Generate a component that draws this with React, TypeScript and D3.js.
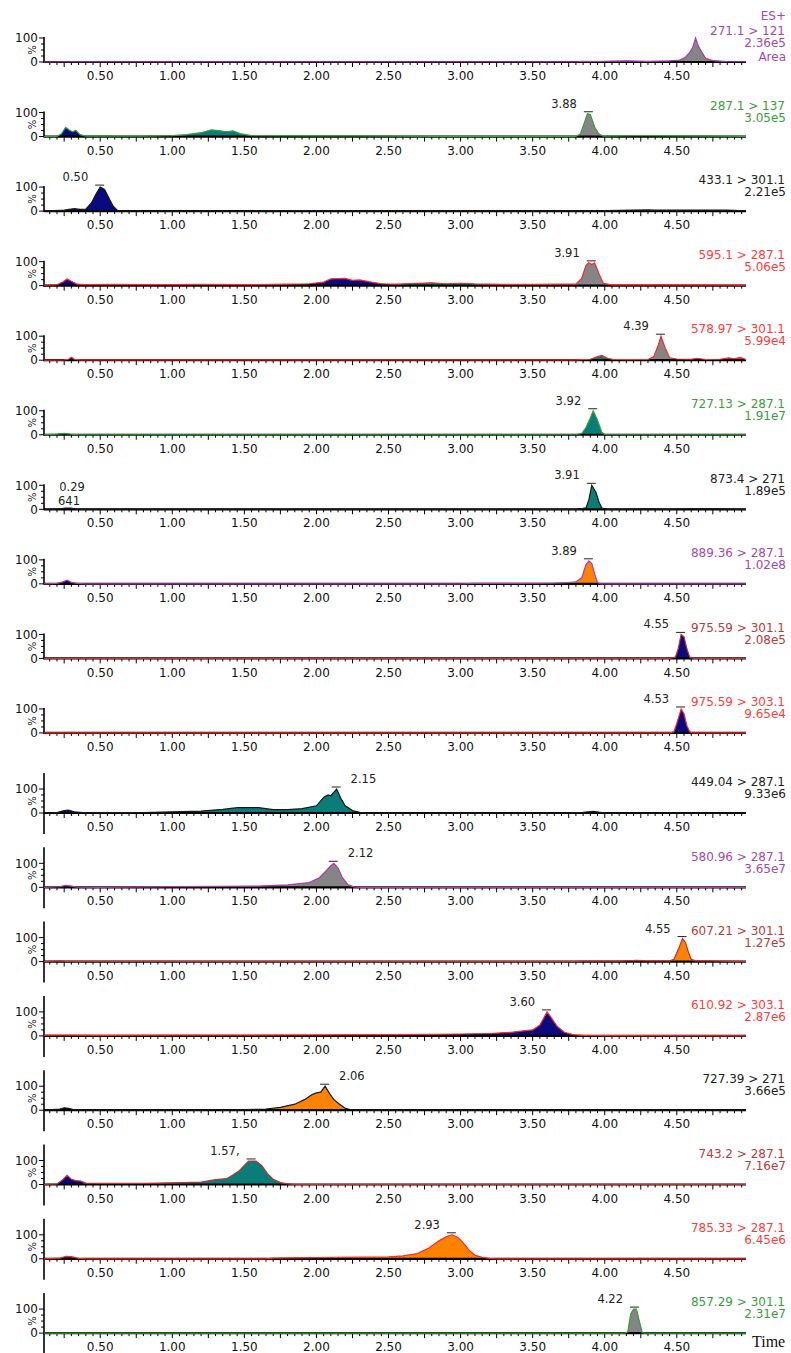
import React from 'react';
import * as d3 from 'd3';

// retention time axis (minutes)
const timeDomain: [number, number] = [0.11, 4.98];
const timeTickLabels = [0.5, 1, 1.5, 2, 2.5, 3, 3.5, 4, 4.5];

// MRM transitions and their base peak intensities
const transitions = [
  '271.1 > 121', '287.1 > 137', '433.1 > 301.1', '595.1 > 287.1', '578.97 > 301.1',
  '727.13 > 287.1', '873.4 > 271', '889.36 > 287.1', '975.59 > 301.1', '975.59 > 303.1',
  '449.04 > 287.1', '580.96 > 287.1', '607.21 > 301.1', '610.92 > 303.1', '727.39 > 271',
  '743.2 > 287.1', '785.33 > 287.1', '857.29 > 301.1',
];
const intensities = [
  '2.36e5', '3.05e5', '2.21e5', '5.06e5', '5.99e4', '1.91e7', '1.89e5', '1.02e8', '2.08e5',
  '9.65e4', '9.33e6', '3.65e7', '1.27e5', '2.87e6', '3.66e5', '7.16e7', '6.45e6', '2.31e7',
];
const traceColorKeys = [
  'purple', 'green', 'black', 'red', 'red', 'green', 'black', 'purple', 'darkred',
  'red', 'black', 'purple', 'darkred', 'red', 'black', 'darkred', 'red', 'green',
];

// labelled peaks: retention time, text, side of the label
const peakTimes = [4.63, 3.89, 0.5, 3.91, 4.39, 3.92, 3.91, 3.89, 4.53, 4.53, 2.14, 2.12, 4.54, 3.6, 2.06, 1.55, 2.94, 4.21];
const peakLabels = ['', '3.88', '0.50', '3.91', '4.39', '3.92', '3.91', '3.89', '4.55', '4.53', '2.15', '2.12', '4.55', '3.60', '2.06', '1.57,', '2.93', '4.22'];
const peakSides = ['L', 'L', 'L', 'L', 'L', 'L', 'L', 'L', 'L', 'L', 'R', 'R', 'L', 'L', 'R', 'L', 'L', 'L'];

// chromatograms: [time, % of base peak]
const tr271 = [[0.11, 0], [0.25, 1], [0.3, 1], [0.6, 1], [0.65, 1], [1.3, 1], [1.55, 1], [1.65, 1], [2.8, 1], [3.8, 1], [3.85, 3], [3.95, 2], [4.05, 4], [4.15, 5], [4.3, 3], [4.45, 5], [4.52, 8], [4.56, 20], [4.59, 40], [4.61, 60], [4.63, 100], [4.65, 65], [4.67, 45], [4.7, 15], [4.75, 6], [4.8, 4], [4.85, 2], [4.98, 1]];
const tr287 = [[0.11, 0], [0.2, 1], [0.23, 10], [0.26, 38], [0.29, 25], [0.31, 20], [0.33, 26], [0.36, 8], [0.4, 2], [0.55, 3], [0.6, 2], [0.8, 2], [1.0, 4], [1.1, 8], [1.2, 16], [1.27, 28], [1.32, 25], [1.38, 20], [1.42, 24], [1.47, 12], [1.55, 4], [2.0, 3], [2.3, 3], [2.8, 1], [3.8, 1], [3.83, 10], [3.86, 60], [3.88, 95], [3.9, 92], [3.93, 40], [3.96, 10], [3.99, 2], [4.2, 4], [4.3, 4], [4.98, 1]];
const tr433 = [[0.11, 0], [0.18, 2], [0.25, 4], [0.32, 10], [0.36, 7], [0.4, 8], [0.44, 35], [0.47, 70], [0.5, 100], [0.53, 90], [0.56, 55], [0.59, 20], [0.62, 3], [0.66, 1], [1.45, 0], [1.8, 2], [1.93, 2], [2.3, 1], [2.5, 1], [3.0, 1], [3.8, 1], [4.0, 2], [4.3, 5], [4.35, 4], [4.85, 4], [4.98, 1]];
const tr595 = [[0.11, 2], [0.2, 4], [0.24, 15], [0.27, 28], [0.3, 18], [0.34, 6], [0.4, 4], [0.6, 5], [0.8, 4], [1.0, 4], [1.2, 5], [1.5, 4], [1.8, 6], [1.95, 8], [2.05, 15], [2.1, 28], [2.2, 30], [2.25, 22], [2.3, 24], [2.38, 15], [2.45, 8], [2.55, 6], [2.7, 10], [2.8, 12], [2.9, 8], [3.0, 10], [3.1, 7], [3.3, 5], [3.5, 5], [3.7, 6], [3.8, 6], [3.84, 30], [3.87, 85], [3.89, 95], [3.91, 88], [3.93, 95], [3.96, 50], [3.99, 10], [4.05, 3], [4.5, 3], [4.98, 2]];
const tr578 = [[0.11, 0], [0.25, 1], [0.28, 4], [0.3, 12], [0.32, 4], [0.36, 1], [1.0, 1], [1.5, 1], [2.0, 1], [3.0, 1], [3.8, 1], [3.9, 4], [3.95, 15], [3.98, 20], [4.02, 8], [4.06, 3], [4.15, 2], [4.3, 3], [4.34, 15], [4.37, 60], [4.39, 100], [4.42, 50], [4.45, 10], [4.5, 5], [4.6, 4], [4.64, 8], [4.7, 3], [4.8, 4], [4.86, 10], [4.9, 6], [4.94, 12], [4.97, 5], [4.98, 2]];
const tr727a = [[0.11, 0], [0.2, 3], [0.25, 6], [0.3, 2], [0.35, 0], [3.5, 0], [3.8, 1], [3.84, 5], [3.87, 30], [3.9, 70], [3.92, 100], [3.95, 60], [3.98, 10], [4.0, 1], [4.98, 0]];
const tr873 = [[0.11, 0], [0.22, 2], [0.26, 5], [0.3, 5], [0.33, 1], [3.8, 0], [3.84, 3], [3.87, 6], [3.89, 40], [3.91, 100], [3.94, 70], [3.96, 30], [3.98, 5], [4.02, 0], [4.35, 2], [4.4, 0], [4.55, 2], [4.6, 2], [4.7, 2], [4.8, 2], [4.98, 0]];
const tr889 = [[0.11, 0], [0.2, 2], [0.24, 8], [0.27, 15], [0.3, 6], [0.34, 2], [0.4, 0], [3.0, 0], [3.1, 2], [3.4, 2], [3.65, 3], [3.75, 5], [3.8, 8], [3.84, 25], [3.87, 80], [3.89, 96], [3.91, 85], [3.93, 40], [3.95, 5], [3.97, 0], [4.98, 0]];
const tr975a = [[0.11, 0], [4.45, 0], [4.49, 5], [4.51, 40], [4.53, 100], [4.55, 90], [4.57, 40], [4.59, 5], [4.62, 0], [4.98, 0]];
const tr975b = [[0.11, 0], [4.45, 0], [4.48, 5], [4.5, 40], [4.53, 100], [4.55, 80], [4.57, 30], [4.59, 5], [4.61, 0], [4.98, 0]];
const tr449 = [[0.11, 0], [0.2, 2], [0.25, 10], [0.28, 12], [0.32, 5], [0.36, 3], [0.4, 1], [0.6, 2], [0.8, 2], [1.0, 5], [1.2, 8], [1.35, 15], [1.45, 22], [1.6, 22], [1.7, 14], [1.8, 14], [1.9, 18], [2.0, 30], [2.05, 65], [2.08, 75], [2.1, 72], [2.14, 100], [2.17, 60], [2.2, 30], [2.25, 10], [2.3, 3], [2.35, 0], [3.75, 0], [3.85, 3], [3.92, 7], [3.98, 2], [4.02, 0], [4.98, 0]];
const tr580 = [[0.11, 0], [0.22, 3], [0.26, 8], [0.3, 5], [0.34, 1], [0.5, 0], [1.0, 3], [1.3, 4], [1.6, 5], [1.8, 10], [1.95, 20], [2.02, 40], [2.07, 70], [2.1, 90], [2.12, 100], [2.15, 80], [2.18, 40], [2.22, 10], [2.26, 2], [2.3, 0], [4.98, 0]];
const tr607 = [[0.11, 0], [0.22, 3], [0.26, 1], [1.0, 1], [1.05, 0], [3.8, 0], [3.85, 2], [4.0, 2], [4.1, 2], [4.22, 5], [4.3, 3], [4.45, 3], [4.48, 10], [4.51, 50], [4.54, 96], [4.56, 80], [4.58, 40], [4.6, 10], [4.63, 3], [4.75, 3], [4.8, 2], [4.98, 0]];
const tr610 = [[0.11, 3], [0.3, 3], [0.5, 2], [1.0, 3], [1.5, 3], [2.0, 4], [2.5, 5], [2.8, 6], [3.0, 8], [3.2, 10], [3.35, 15], [3.45, 22], [3.5, 25], [3.55, 45], [3.6, 100], [3.63, 75], [3.67, 40], [3.72, 15], [3.78, 5], [3.85, 2], [4.0, 1], [4.98, 0]];
const tr727b = [[0.11, 0], [0.22, 5], [0.25, 10], [0.28, 8], [0.32, 2], [0.4, 0], [1.0, 1], [1.5, 2], [1.65, 5], [1.75, 12], [1.85, 25], [1.92, 45], [1.97, 65], [2.0, 72], [2.03, 75], [2.06, 100], [2.09, 70], [2.12, 45], [2.16, 25], [2.2, 8], [2.25, 1], [2.3, 0], [4.98, 0]];
const tr743 = [[0.11, 0], [0.2, 2], [0.24, 20], [0.27, 38], [0.3, 22], [0.33, 16], [0.36, 15], [0.4, 6], [0.5, 5], [0.8, 5], [1.0, 7], [1.2, 10], [1.3, 20], [1.38, 25], [1.42, 40], [1.46, 55], [1.5, 80], [1.53, 98], [1.58, 98], [1.62, 80], [1.66, 45], [1.7, 22], [1.75, 8], [1.8, 3], [1.85, 0], [4.98, 0]];
const tr785 = [[0.11, 0], [0.22, 3], [0.26, 10], [0.3, 9], [0.35, 2], [0.4, 0], [1.65, 0], [1.7, 3], [2.0, 5], [2.3, 7], [2.5, 8], [2.6, 12], [2.7, 22], [2.78, 45], [2.85, 75], [2.9, 92], [2.94, 100], [2.98, 90], [3.02, 65], [3.06, 35], [3.1, 15], [3.15, 6], [3.2, 2], [3.25, 0], [4.98, 0]];
const tr857 = [[0.11, 0], [4.14, 0], [4.16, 5], [4.18, 80], [4.2, 100], [4.22, 100], [4.24, 50], [4.26, 2], [4.28, 0], [4.98, 0]];

const traces = [tr271, tr287, tr433, tr595, tr578, tr727a, tr873, tr889, tr975a, tr975b, tr449, tr580, tr607, tr610, tr727b, tr743, tr785, tr857];

// integrated / coloured regions: [from, to, colour key]
const fillRanges: [number, number, string][][] = [
  [[4.5, 4.78, 'gray']],
  [[0.2, 0.38, 'navy'], [1.0, 1.55, 'teal'], [3.8, 3.99, 'gray'], [4.2, 4.32, 'orange']],
  [[0.15, 0.66, 'navy'], [4.25, 4.4, 'orange'], [4.8, 4.9, 'red']],
  [[0.2, 0.36, 'navy'], [1.95, 2.5, 'navy'], [2.55, 3.15, 'teal'], [3.78, 4.02, 'gray']],
  [[0.26, 0.34, 'navy'], [3.88, 4.06, 'teal'], [4.32, 4.48, 'gray'], [4.82, 4.98, 'red']],
  [[0.18, 0.32, 'navy'], [3.82, 4.0, 'teal']],
  [[0.2, 0.34, 'navy'], [3.82, 4.0, 'teal']],
  [[0.2, 0.36, 'navy'], [3.65, 3.97, 'orange']],
  [[4.46, 4.62, 'navy']],
  [[4.46, 4.62, 'navy']],
  [[0.2, 0.38, 'navy'], [0.9, 2.35, 'teal'], [3.78, 4.0, 'gray']],
  [[0.2, 0.35, 'navy'], [0.9, 2.3, 'gray']],
  [[4.46, 4.64, 'orange']],
  [[1.5, 3.9, 'navy']],
  [[0.2, 0.34, 'navy'], [1.4, 2.28, 'orange']],
  [[0.2, 0.38, 'navy'], [0.38, 1.85, 'teal']],
  [[0.2, 0.36, 'navy'], [1.65, 3.25, 'orange']],
  [[4.12, 4.3, 'gray']],
];

const palette: Record<string, string> = {
  purple: '#b03cb0', green: '#36a236', black: '#1a1a1a', red: '#ff2a2a', darkred: '#c23232',
  navy: '#0a0a80', teal: '#0a7d78', gray: '#858585', orange: '#ff8200',
};
const textPalette: Record<string, string> = {
  purple: '#a24aa8', green: '#3c9c3c', black: '#222', red: '#ff3c3c', darkred: '#b83a3a',
};

const font = 'DejaVu Sans, sans-serif';

function Panel({ i, base }: { i: number; base: number }) {
  const x = d3.scaleLinear().domain(timeDomain).range([44, 746]);
  const y = d3.scaleLinear().domain([0, 100]).range([0, -24]);
  const data = traces[i];
  const area = d3.area<number[]>().x((d) => x(d[0])).y0(0).y1((d) => y(d[1]));
  const ln = d3.line<number[]>().x((d) => x(d[0])).y((d) => y(d[1]));
  const tall = i >= 10;
  const minorTicks = d3.range(0.15, 4.98, 0.05).map((v) => Math.round(v * 100) / 100);
  const peakMax = d3.max(data, (d) => d[1]) as number;
  const px = x(peakTimes[i]);
  const py = y(peakMax);
  const col = palette[traceColorKeys[i]];
  const tcol = textPalette[traceColorKeys[i]];
  return (
    <g transform={`translate(0,${base})`}>
      <defs>
        {fillRanges[i].map((r, j) => (
          <clipPath key={j} id={`clip${i}_${j}`}>
            <rect x={x(r[0])} y={-60} width={x(r[1]) - x(r[0])} height={60} />
          </clipPath>
        ))}
      </defs>
      <path d={area(data) || ''} fill="#2a2a2a" />
      {fillRanges[i].map((r, j) => (
        <path key={j} d={area(data) || ''} fill={palette[r[2]]} clipPath={`url(#clip${i}_${j})`} />
      ))}
      {/* y axis */}
      <line x1={44} x2={44} y1={tall ? -40 : -25} y2={tall ? 21 : 1} stroke="#000" strokeWidth={1.6} />
      {[0, 25, 50, 75, 100].map((v) => (
        <line key={v} x1={v % 100 === 0 ? 39 : 41} x2={44} y1={y(v)} y2={y(v)} stroke="#000" strokeWidth={1} />
      ))}
      <text x={38} y={y(100)} dy="0.35em" textAnchor="end" fontFamily={font} fontSize={12} fill="#111">100</text>
      <text x={38} y={0} dy="0.35em" textAnchor="end" fontFamily={font} fontSize={12} fill="#111">0</text>
      <text transform={`translate(36,${y(50)}) rotate(-90)`} textAnchor="middle" fontFamily={font} fontSize={10} fill="#111">%</text>
      {/* x axis */}
      <line x1={44} x2={746} y1={0} y2={0} stroke="#000" strokeWidth={2.2} />
      {minorTicks.map((t) => {
        const major = Math.abs(t * 4 - Math.round(t * 4)) < 1e-6;
        return <line key={t} x1={x(t)} x2={x(t)} y1={0} y2={major ? 5 : 3} stroke="#000" strokeWidth={1} />;
      })}
      {timeTickLabels.map((t) => (
        <text key={t} x={x(t)} y={14} dy="0.35em" textAnchor="middle" fontFamily={font} fontSize={12} fill="#111">
          {t.toFixed(2)}
        </text>
      ))}
      <path d={ln(data) || ''} fill="none" stroke={col} strokeWidth={1.2} />
      {/* peak annotation */}
      {peakLabels[i] && (
        <g>
          <line x1={px - 5} x2={px + 4} y1={py - 2} y2={py - 2} stroke="#222" strokeWidth={1} />
          <text
            x={peakSides[i] === 'L' ? px - 12 : px + 14}
            y={py - 6}
            textAnchor={peakSides[i] === 'L' ? 'end' : 'start'}
            fontFamily={font}
            fontSize={11.5}
            fill="#222"
          >
            {peakLabels[i]}
          </text>
        </g>
      )}
      {i === 6 && (
        <g fontFamily={font} fontSize={11.5} fill="#222" textAnchor="middle">
          <text x={72} y={-22} dy="0.35em">0.29</text>
          <text x={69} y={-8} dy="0.35em">641</text>
        </g>
      )}
      <g fontFamily={font} fontSize={12} fill={tcol} textAnchor="end">
        <text x={785} y={-31} dy="0.35em">{transitions[i]}</text>
        <text x={786} y={-19} dy="0.35em">{intensities[i]}</text>
        {i === 0 && <text x={786} y={-46} dy="0.35em">ES+</text>}
        {i === 0 && <text x={786} y={-5} dy="0.35em">Area</text>}
      </g>
    </g>
  );
}

export default function App() {
  const bases = traces.map((_, i) => (i < 10 ? 62 + i * 74.55 : 813 + (i - 10) * 74.3));
  return (
    <svg width={791} height={1353} style={{ position: 'absolute', left: 0, top: 0, background: '#fff' }}>
      <rect width={791} height={1353} fill="#fff" />
      {bases.map((b, i) => (
        <Panel key={i} i={i} base={b} />
      ))}
      <text x={752} y={1347} fontFamily="Liberation Serif, serif" fontSize={16} fill="#111">Time</text>
    </svg>
  );
}
